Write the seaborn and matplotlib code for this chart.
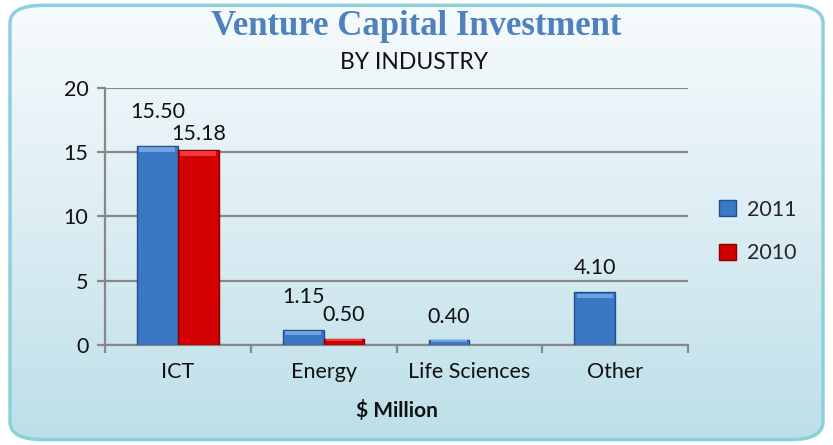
import numpy as np
import pandas as pd
import matplotlib
matplotlib.use("Agg")
import matplotlib.pyplot as plt
from matplotlib.patches import FancyBboxPatch, Patch, Rectangle
from matplotlib.colors import LinearSegmentedColormap
import seaborn as sns

categories = ["ICT", "Energy", "Life Sciences", "Other"]
values_2011 = [15.50, 1.15, 0.40, 4.10]
values_2010 = [15.18, 0.50, np.nan, np.nan]
series = ["2011", "2010"]
y_ticks = [0, 5, 10, 15, 20]

df = pd.DataFrame({
    "Industry": categories * 2,
    "Year": [series[0]] * 4 + [series[1]] * 4,
    "Value": values_2011 + values_2010,
})

sns.set_theme(style="white")
plt.rcParams["font.family"] = ["Lato", "DejaVu Sans"]

fig = plt.figure(figsize=(8.33, 4.45), dpi=100)

# background with rounded border and vertical gradient
bg_ax = fig.add_axes([0, 0, 1, 1], zorder=-10)
bg_ax.set_axis_off()
bg_ax.set_xlim(0, 1)
bg_ax.set_ylim(0, 1)
grad = np.linspace(0, 1, 256).reshape(-1, 1)
cmap = LinearSegmentedColormap.from_list("bg", ["#bcdfe8", "#dcedf3", "#f7fbfd"])
frame = FancyBboxPatch((0.012, 0.012), 0.976, 0.976,
                       boxstyle="round,pad=0,rounding_size=0.04",
                       transform=bg_ax.transAxes, facecolor="none",
                       edgecolor="#8ecfdc", linewidth=2.5)
im = bg_ax.imshow(grad, aspect="auto", cmap=cmap, origin="lower",
                  extent=[0, 1, 0, 1])
bg_ax.add_patch(frame)
im.set_clip_path(frame)

ax = fig.add_axes([0.126, 0.2245, 0.700, 0.578])
ax.patch.set_alpha(0)

palette = {"2011": "#3b78c4", "2010": "#d20000"}
edges = {"2011": "#214f8a", "2010": "#850000"}
highlights = {"2011": "#6fa2e0", "2010": "#f03a3a"}
sns.barplot(data=df, x="Industry", y="Value", hue="Year", palette=palette,
            saturation=1, width=0.56, ax=ax, legend=False, zorder=3)

# label offsets (points) per bar, as placed in the reference to avoid overlaps
label_pads = {"2011": [17, 17, 9, 10], "2010": [4, 9.5]}
for cont, s in zip(ax.containers, series):
    for p in cont.patches:
        p.set_edgecolor(edges[s])
        p.set_linewidth(1.0)
        h = p.get_height()
        if np.isfinite(h) and h > 0:
            bh = min(0.45, h * 0.35)
            ax.add_patch(Rectangle((p.get_x() + p.get_width() * 0.06, h - bh),
                                   p.get_width() * 0.88, bh * 0.8,
                                   facecolor=highlights[s], edgecolor="none",
                                   zorder=4))
    finite = [p for p in cont.patches if np.isfinite(p.get_height())]
    pads = label_pads[s]
    for i, p in enumerate(finite):
        pad = pads[i] if i < len(pads) else 8
        ax.annotate(f"{p.get_height():.2f}",
                    (p.get_x() + p.get_width() / 2, p.get_height()),
                    xytext=(0, pad), textcoords="offset points",
                    ha="center", va="bottom", fontsize=15.5, color="#111111")

ax.set_ylim(0, 20)
ax.set_yticks(y_ticks)
ax.set_xlim(-0.5, 3.5)
ax.yaxis.grid(True, color="#888888", linewidth=1.6, zorder=0)
ax.set_axisbelow(True)
for sp in ["top", "right"]:
    ax.spines[sp].set_visible(False)
for sp in ["left", "bottom"]:
    ax.spines[sp].set_color("#888888")
    ax.spines[sp].set_linewidth(1.6)

ax.tick_params(axis="y", which="major", length=6, width=1.6, color="#888888",
               labelsize=15.5, labelcolor="#111111", pad=6, left=True)
ax.set_xticks(range(len(categories)))
ax.set_xticklabels(categories)
ax.tick_params(axis="x", which="major", length=0, labelsize=15.5,
               labelcolor="#111111", pad=12)
ax.set_xticks([-0.5, 0.5, 1.5, 2.5, 3.5], minor=True)
ax.tick_params(axis="x", which="minor", length=6, width=1.6, color="#888888",
               bottom=True)
ax.set_xlabel("$ Million", fontsize=15, fontweight="bold", color="#111111",
              labelpad=13)
ax.set_ylabel("")

fig.text(0.5, 0.94, "Venture Capital Investment", ha="center", va="center",
         fontsize=25, fontweight="bold", color="#4f81bd",
         family=["Liberation Serif", "DejaVu Serif"])
fig.text(0.497, 0.86, "BY INDUSTRY", ha="center", va="center", fontsize=16.5,
         color="#111111")

handles = [Patch(facecolor=palette[s], edgecolor=edges[s], label=s) for s in series]
fig.legend(handles=handles, loc="center left", bbox_to_anchor=(0.84, 0.48),
           frameon=False, fontsize=15.5, handlelength=0.8, handleheight=0.8,
           handletextpad=0.5, labelspacing=1.1)

fig.savefig("out.png", dpi=100)
